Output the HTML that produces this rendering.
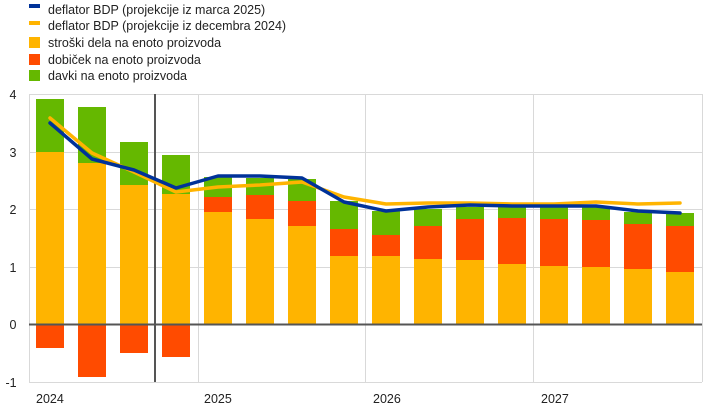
<!DOCTYPE html>
<html><head><meta charset="utf-8"><style>
body{margin:0;background:#fff}
svg{display:block;font-family:"Liberation Sans",Arial,sans-serif}
</style></head><body>
<svg width="714" height="409" viewBox="0 0 714 409" xmlns="http://www.w3.org/2000/svg">
<rect width="714" height="409" fill="#fff"/>
<!-- legend -->
<rect x="29" y="4" width="11" height="4" fill="#003299"/>
<rect x="29" y="21" width="11" height="4" fill="#FFB400"/>
<rect x="29" y="37" width="11" height="11" fill="#FFB400"/>
<rect x="29" y="54" width="11" height="11" fill="#FF4B00"/>
<rect x="29" y="70" width="11" height="11" fill="#65B800"/>
<g font-size="12.5" fill="#222">
<text x="48" y="14">deflator BDP (projekcije iz marca 2025)</text>
<text x="48" y="30">deflator BDP (projekcije iz decembra 2024)</text>
<text x="48" y="47">stroški dela na enoto proizvoda</text>
<text x="48" y="64">dobiček na enoto proizvoda</text>
<text x="48" y="80">davki na enoto proizvoda</text>
</g>
<!-- grid -->
<g stroke="#d9d9d9" stroke-width="1" fill="none">
<line x1="29" y1="94.5" x2="702" y2="94.5"/>
<line x1="29" y1="152.5" x2="702" y2="152.5"/>
<line x1="29" y1="209.5" x2="702" y2="209.5"/>
<line x1="29" y1="267.5" x2="702" y2="267.5"/>
<line x1="29" y1="382.5" x2="702" y2="382.5"/>
<line x1="29.5" y1="94" x2="29.5" y2="382"/>
<line x1="198.5" y1="94" x2="198.5" y2="382"/>
<line x1="365.5" y1="94" x2="365.5" y2="382"/>
<line x1="533.5" y1="94" x2="533.5" y2="382"/>
<line x1="702.5" y1="94" x2="702.5" y2="382"/>
</g>
<g font-size="12.5" fill="#222" text-anchor="middle">
<text x="13" y="99">4</text>
<text x="13" y="157">3</text>
<text x="13" y="214">2</text>
<text x="13" y="272">1</text>
<text x="13" y="329">0</text>
<text x="11" y="387">-1</text>
</g>
<g font-size="12.5" fill="#222">
<text x="36" y="403">2024</text>
<text x="204" y="403">2025</text>
<text x="373" y="403">2026</text>
<text x="541" y="403">2027</text>
</g>
<!-- bars -->
<g>
<!-- 1-4 -->
<rect x="36" y="99" width="28" height="53" fill="#65B800"/>
<rect x="36" y="152" width="28" height="172.5" fill="#FFB400"/>
<rect x="36" y="324.5" width="28" height="23.5" fill="#FF4B00"/>
<rect x="78" y="107" width="28" height="56" fill="#65B800"/>
<rect x="78" y="163" width="28" height="161.5" fill="#FFB400"/>
<rect x="78" y="324.5" width="28" height="52.5" fill="#FF4B00"/>
<rect x="120" y="142" width="28" height="43" fill="#65B800"/>
<rect x="120" y="185" width="28" height="139.5" fill="#FFB400"/>
<rect x="120" y="324.5" width="28" height="28.5" fill="#FF4B00"/>
<rect x="162" y="155" width="28" height="39" fill="#65B800"/>
<rect x="162" y="194" width="28" height="130.5" fill="#FFB400"/>
<rect x="162" y="324.5" width="28" height="32.5" fill="#FF4B00"/>
</g>
<g id="b"></g>
<!-- later bars: x, green, red, yellow -->
<g>
<rect x="204" y="177" width="28" height="20" fill="#65B800"/><rect x="204" y="197" width="28" height="15" fill="#FF4B00"/><rect x="204" y="212" width="28" height="112.5" fill="#FFB400"/>
<rect x="246" y="178" width="28" height="17" fill="#65B800"/><rect x="246" y="195" width="28" height="24" fill="#FF4B00"/><rect x="246" y="219" width="28" height="105.5" fill="#FFB400"/>
<rect x="288" y="179" width="28" height="22" fill="#65B800"/><rect x="288" y="201" width="28" height="25" fill="#FF4B00"/><rect x="288" y="226" width="28" height="98.5" fill="#FFB400"/>
<rect x="330" y="201" width="28" height="28" fill="#65B800"/><rect x="330" y="229" width="28" height="27" fill="#FF4B00"/><rect x="330" y="256" width="28" height="68.5" fill="#FFB400"/>
<rect x="372" y="211" width="28" height="24" fill="#65B800"/><rect x="372" y="235" width="28" height="21" fill="#FF4B00"/><rect x="372" y="256" width="28" height="68.5" fill="#FFB400"/>
<rect x="414" y="209" width="28" height="17" fill="#65B800"/><rect x="414" y="226" width="28" height="33" fill="#FF4B00"/><rect x="414" y="259" width="28" height="65.5" fill="#FFB400"/>
<rect x="456" y="207" width="28" height="12" fill="#65B800"/><rect x="456" y="219" width="28" height="41" fill="#FF4B00"/><rect x="456" y="260" width="28" height="64.5" fill="#FFB400"/>
<rect x="498" y="207" width="28" height="11" fill="#65B800"/><rect x="498" y="218" width="28" height="46" fill="#FF4B00"/><rect x="498" y="264" width="28" height="60.5" fill="#FFB400"/>
<rect x="540" y="207" width="28" height="12" fill="#65B800"/><rect x="540" y="219" width="28" height="47" fill="#FF4B00"/><rect x="540" y="266" width="28" height="58.5" fill="#FFB400"/>
<rect x="582" y="207" width="28" height="13" fill="#65B800"/><rect x="582" y="220" width="28" height="47" fill="#FF4B00"/><rect x="582" y="267" width="28" height="57.5" fill="#FFB400"/>
<rect x="624" y="212" width="28" height="12" fill="#65B800"/><rect x="624" y="224" width="28" height="45" fill="#FF4B00"/><rect x="624" y="269" width="28" height="55.5" fill="#FFB400"/>
<rect x="666" y="213" width="28" height="13" fill="#65B800"/><rect x="666" y="226" width="28" height="46" fill="#FF4B00"/><rect x="666" y="272" width="28" height="52.5" fill="#FFB400"/>
</g>
<!-- zero line & divider -->
<line x1="29" y1="324.5" x2="702" y2="324.5" stroke="#555" stroke-width="2"/>
<line x1="155" y1="94" x2="155" y2="382" stroke="#555" stroke-width="2"/>
<!-- lines -->
<polyline fill="none" stroke="#FFB400" stroke-width="3.5" stroke-linejoin="round" stroke-linecap="round"
points="50,118 92,153 134,172 176,192 218,187 260,185 302,182 344,197 386,204 428,203 470,203 512,204 554,204 596,202 638,204 680,203"/>
<polyline fill="none" stroke="#003299" stroke-width="3.5" stroke-linejoin="round" stroke-linecap="round"
points="50,123 92,159 134,170 176,188 218,176 260,176 302,178 344,202 386,211 428,207 470,205 512,206 554,206 596,206 638,211 680,213"/>
</svg>
</body></html>
